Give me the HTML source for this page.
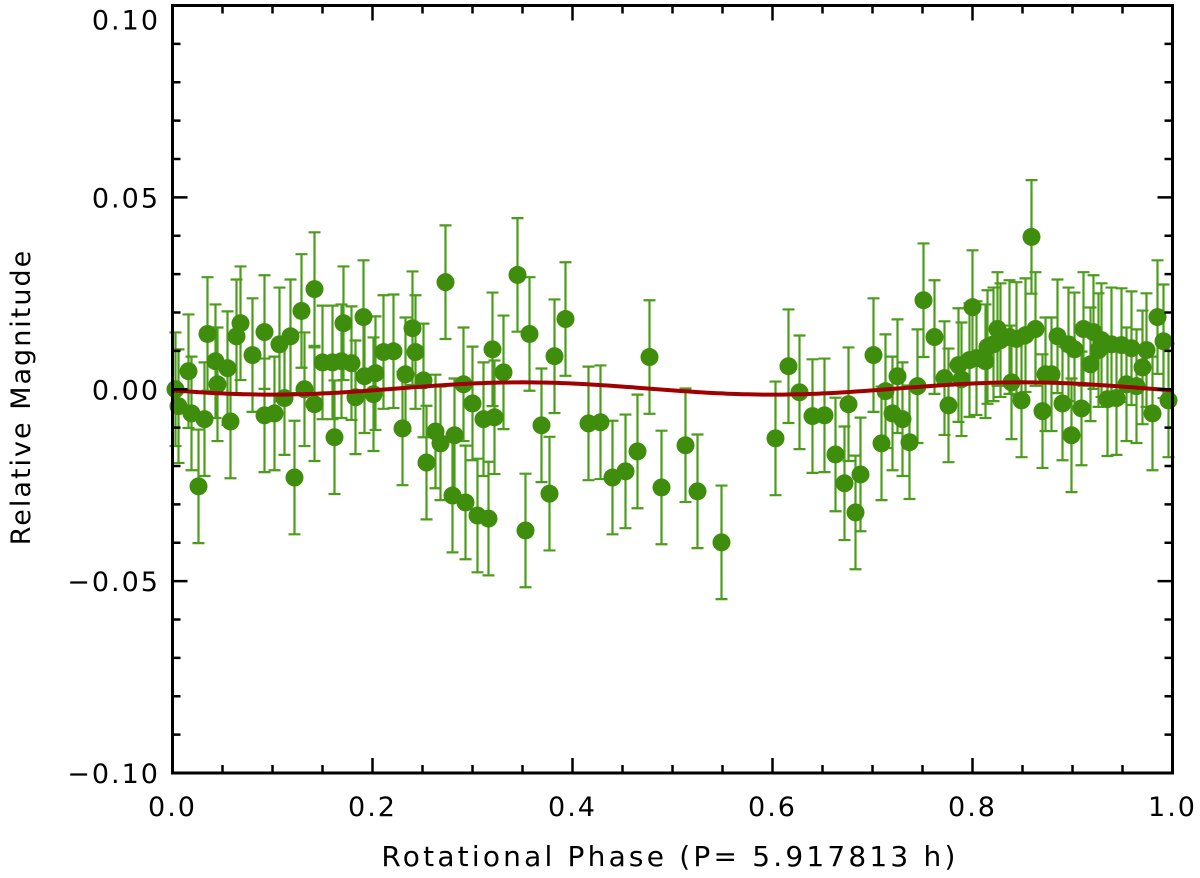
<!DOCTYPE html>
<html><head><meta charset="utf-8"><style>
body{margin:0;background:#fff}
svg{display:block}
text{font-family:"DejaVu Sans","Liberation Sans",sans-serif;fill:#000}
</style></head><body>
<svg id="chart" width="1200" height="878" xmlns="http://www.w3.org/2000/svg">
<g id="errs"></g>
<g id="dots"></g>
<g id="model"></g>
<g id="axes"></g>
<text x="670" y="866" text-anchor="middle" font-size="28" letter-spacing="3.2">Rotational Phase (P= 5.917813 h)</text>
<text transform="translate(30,397) rotate(-90)" text-anchor="middle" font-size="27" letter-spacing="2">Relative Magnitude</text>
</svg>
<script>
const phases=[0.003,0.006,0.016,0.019,0.026,0.032,0.035,0.043,0.045,0.055,0.058,0.064,0.068,0.080,0.092,0.092,0.102,0.107,0.112,0.118,0.122,0.129,0.132,0.142,0.142,0.150,0.160,0.162,0.169,0.171,0.179,0.183,0.191,0.192,0.201,0.203,0.211,0.221,0.230,0.233,0.240,0.243,0.251,0.254,0.263,0.268,0.273,0.280,0.282,0.291,0.293,0.300,0.305,0.311,0.316,0.320,0.322,0.331,0.345,0.353,0.357,0.369,0.377,0.382,0.393,0.416,0.428,0.440,0.453,0.465,0.477,0.489,0.513,0.525,0.549,0.603,0.616,0.627,0.640,0.652,0.663,0.672,0.676,0.683,0.688,0.701,0.709,0.713,0.720,0.725,0.730,0.737,0.745,0.751,0.762,0.772,0.776,0.786,0.789,0.797,0.800,0.804,0.813,0.815,0.821,0.825,0.828,0.837,0.839,0.844,0.849,0.853,0.859,0.863,0.870,0.873,0.879,0.885,0.890,0.896,0.899,0.902,0.909,0.911,0.918,0.921,0.926,0.929,0.935,0.939,0.944,0.949,0.954,0.959,0.964,0.970,0.974,0.980,0.985,0.991,0.996];
const mags=[0.0000,-0.0044,0.0047,-0.0063,-0.0253,-0.0078,0.0144,0.0073,0.0013,0.0055,-0.0084,0.0138,0.0172,0.0089,0.0149,-0.0068,-0.0063,0.0117,-0.0023,0.0138,-0.0230,0.0204,0.0000,0.0261,-0.0039,0.0070,0.0070,-0.0125,0.0073,0.0172,0.0068,-0.0021,0.0188,0.0034,-0.0013,0.0042,0.0097,0.0099,-0.0102,0.0039,0.0159,0.0097,0.0023,-0.0191,-0.0110,-0.0141,0.0279,-0.0277,-0.0120,0.0013,-0.0295,-0.0037,-0.0329,-0.0078,-0.0337,0.0104,-0.0073,0.0044,0.0298,-0.0368,0.0144,-0.0094,-0.0272,0.0086,0.0183,-0.0089,-0.0086,-0.0230,-0.0214,-0.0162,0.0084,-0.0256,-0.0146,-0.0266,-0.0399,-0.0128,0.0060,-0.0008,-0.0070,-0.0068,-0.0170,-0.0245,-0.0039,-0.0321,-0.0222,0.0089,-0.0141,-0.0005,-0.0063,0.0034,-0.0078,-0.0138,0.0008,0.0232,0.0136,0.0029,-0.0042,0.0063,0.0026,0.0076,0.0214,0.0081,0.0073,0.0110,0.0117,0.0157,0.0128,0.0136,0.0018,0.0131,-0.0029,0.0141,0.0397,0.0157,-0.0057,0.0039,0.0039,0.0138,-0.0037,0.0117,-0.0120,0.0104,-0.0050,0.0157,0.0065,0.0149,0.0102,0.0128,-0.0026,0.0117,-0.0023,0.0115,0.0013,0.0107,0.0008,0.0057,0.0102,-0.0063,0.0188,0.0125,-0.0029];
const errSize=0.0148;
const modelCoef=[0.0002,0.0016,0.35]; // offset, amplitude, phase of max
const xTicks=[0.0,0.2,0.4,0.6,0.8,1.0];
const xTickLabels=["0.0","0.2","0.4","0.6","0.8","1.0"];
const yTicks=[0.10,0.05,0.00,-0.05,-0.10];
const yTickLabels=["0.10","0.05","0.00","\u22120.05","\u22120.10"];

const X0=172.5,X1=1172.5,YT=5.5,YB=773;
const sx=v=>X0+(v-0)*(X1-X0)/1;
const sy=v=>YB-(v+0.1)*(YB-YT)/0.2;
const NS="http://www.w3.org/2000/svg";
function mk(t,a,p){const e=document.createElementNS(NS,t);for(const k in a)e.setAttribute(k,a[k]);p.appendChild(e);return e;}
const errs=document.getElementById('errs'),dots=document.getElementById('dots'),axes=document.getElementById('axes'),model=document.getElementById('model');
const G="#3f8d0c",GB="#4c9c1c";
phases.forEach((p,i)=>{
  const x=sx(p),y1=sy(mags[i]+errSize),y2=sy(mags[i]-errSize);
  const eb=mk('path',{d:`M${x},${y1}V${y2}M${x-6},${y1}H${x+6}M${x-6},${y2}H${x+6}`,stroke:GB,'stroke-width':2.2,fill:'none'},errs);
  
  
});
phases.forEach((p,i)=>{
  const c=mk('circle',{cx:sx(p),cy:sy(mags[i]),r:9,fill:G},dots);
  
  
});
let d="";
for(let k=0;k<=200;k++){const p=k/200;const v=modelCoef[0]+modelCoef[1]*Math.cos(4*Math.PI*(p-modelCoef[2]));d+=(k?"L":"M")+sx(p).toFixed(1)+","+sy(v).toFixed(1);}
const ml=mk('path',{d:d,stroke:"#a00000",'stroke-width':4,fill:'none'},model);


const fr=mk('rect',{x:X0,y:YT,width:X1-X0,height:YB-YT,fill:'none',stroke:'#000','stroke-width':3},axes);


let td="";
for(let k=0;k<=20;k++){const x=sx(k*0.05);const L=(k%4==0)?15:8;td+=`M${x},${YB}V${YB-L}M${x},${YT}V${YT+L}`;}
for(let k=0;k<=20;k++){const y=sy(-0.1+k*0.01);const L=(k%5==0)?15:8;td+=`M${X0},${y}H${X0+L}M${X1},${y}H${X1-L}`;}
const tk=mk('path',{d:td,stroke:'#000','stroke-width':2.5,fill:'none'},axes);


xTicks.forEach((v,i)=>{
  const t=mk('text',{x:sx(v),y:YB+43,'text-anchor':'middle','font-size':27,'letter-spacing':2},axes);
  t.textContent=xTickLabels[i];
  
  
});
yTicks.forEach((v,i)=>{
  let y=sy(v)+10; if(i===0) y=sy(v)+24;
  const t=mk('text',{x:160,y:y,'text-anchor':'end','font-size':27,'letter-spacing':2},axes);
  t.textContent=yTickLabels[i];
  
  
});
</script>
</body></html>
